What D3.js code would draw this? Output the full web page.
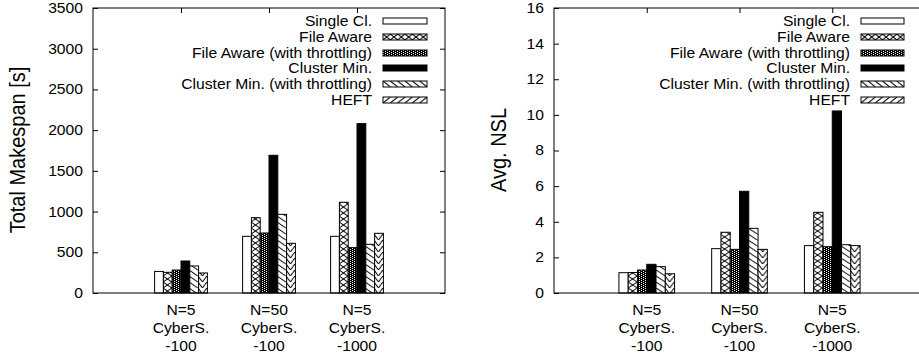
<!DOCTYPE html>
<html>
<head>
<meta charset="utf-8">
<title>Makespan and NSL</title>
<script src="https://cdn.jsdelivr.net/npm/d3@7"></script>
<style>
  body { margin: 0; background: #fff; }
</style>
</head>
<body>
<svg id="chart"></svg>
<script>
// data
var categories = [["N=5", "CyberS.", "-100"], ["N=50", "CyberS.", "-100"], ["N=5", "CyberS.", "-1000"]];
var series = ["Single Cl.", "File Aware", "File Aware (with throttling)", "Cluster Min.", "Cluster Min. (with throttling)", "HEFT"];

// one array per category, values in series order
var makespanN5c100  = [265, 254, 282, 393, 332, 246];
var makespanN50c100 = [696, 925, 737, 1691, 966, 610];
var makespanN5c1000 = [696, 1114, 557, 2080, 598, 733];
var nslN5c100  = [1.14, 1.15, 1.29, 1.61, 1.48, 1.08];
var nslN50c100 = [2.49, 3.41, 2.45, 5.71, 3.63, 2.45];
var nslN5c1000 = [2.66, 4.53, 2.60, 10.22, 2.71, 2.66];

var makespanTicks = [0, 500, 1000, 1500, 2000, 2500, 3000, 3500];
var nslTicks = [0, 2, 4, 6, 8, 10, 12, 14, 16];

var WIDTH = 919, HEIGHT = 354;
var TOP = 8, BOTTOM = 293;
var SX = 1.12;   // gnuplot text looks a bit wide
var FONT = "'Liberation Sans', Arial, Helvetica, sans-serif";
var kinds = ["empty", "cross", "dense", "solid", "back", "chevron"];
var legendKinds = ["empty", "cross", "dense", "solid", "back", "fwd"];

var panels = [
    {values: [makespanN5c100, makespanN50c100, makespanN5c1000], ticks: makespanTicks,
     label: "Total Makespan [s]", left: 93, right: 445, labelX: 25,
     legendTextX: 372, keyX: 383, keyW: 44},
    {values: [nslN5c100, nslN50c100, nslN5c1000], ticks: nslTicks,
     label: "Avg. NSL", left: 554, right: 925, labelX: 506,
     legendTextX: 850, keyX: 861, keyW: 43}
];

var svg = d3.select("#chart").attr("width", WIDTH).attr("height", HEIGHT);
var defs = svg.append("defs");

function addPattern(id, kind, w, h){
    if (kind === "dense") { w = 4; h = 2; }
    var p = defs.append("pattern").attr("id", id)
        .attr("patternUnits", "userSpaceOnUse")
        .attr("width", w).attr("height", h);
    p.append("rect").attr("width", w).attr("height", h)
        .attr("fill", (kind === "solid" || kind === "dense") ? "#000" : "#fff");
    var line = function(x1, y1, x2, y2){
        p.append("line").attr("x1", x1).attr("y1", y1).attr("x2", x2).attr("y2", y2)
            .attr("stroke", "#000").attr("stroke-width", 1);
    };
    [-w, 0, w].forEach(function(dx){
        if (kind === "cross") { line(dx, 0, dx + w, h); line(dx, h, dx + w, 0); }
        if (kind === "back") line(dx, 0, dx + w, h);
        if (kind === "fwd") line(dx, h, dx + w, 0);
    });
    if (kind === "chevron") { line(0, 0, w / 2, h); line(w / 2, h, w, 0); }
    if (kind === "dense") {
        // staggered white dots on black
        p.append("rect").attr("x", 0).attr("y", 0).attr("width", 1).attr("height", 1).attr("fill", "#fff");
        p.append("rect").attr("x", 2).attr("y", 1).attr("width", 1).attr("height", 1).attr("fill", "#fff");
    }
}

function text(g, x, y, str, anchor, size, rotate){
    return g.append("text")
        .attr("transform", "translate(" + x + "," + y + ") scale(" + SX + ",1)" + (rotate ? " rotate(-90)" : ""))
        .attr("text-anchor", anchor)
        .attr("font-family", FONT)
        .attr("font-size", size + "px")
        .attr("fill", "#000")
        .text(str);
}

panels.forEach(function(P, pi){
    var g = svg.append("g");
    var x = d3.scaleLinear().domain([-1, 3]).range([P.left, P.right]);
    var y = d3.scaleLinear().domain([0, d3.max(P.ticks)]).range([BOTTOM, TOP]);
    var inner = d3.scaleBand().domain(d3.range(series.length)).range([-0.3, 0.3]);
    var bw = x(inner.bandwidth()) - x(0);

    kinds.forEach(function(k){ addPattern("b" + pi + k, k, bw, 6); });
    legendKinds.forEach(function(k){ addPattern("l" + pi + k, k, P.keyW / 6, 6); });

    // bars; the group sits on a whole pixel so the fill patterns stay crisp
    P.values.forEach(function(vals, ci){
        g.selectAll(null)
         .data(vals)
         .enter()
         .append("g")
         .attr("transform", function(d, si){ return "translate(" + Math.floor(x(ci + inner(si))) + ",0)"; })
         .append("rect")
         .attr("x", function(d, si){ var bx = x(ci + inner(si)); return bx - Math.floor(bx); })
         .attr("y", function(d){ return y(d); })
         .attr("width", bw)
         .attr("height", function(d){ return BOTTOM - y(d); })
         .attr("fill", function(d, si){ return "url(#b" + pi + kinds[si] + ")"; })
         .attr("stroke", "#000")
         .attr("stroke-width", 1);
    });

    // frame and inward ticks
    g.append("rect")
     .attr("x", P.left).attr("y", TOP)
     .attr("width", P.right - P.left).attr("height", BOTTOM - TOP)
     .attr("fill", "none").attr("stroke", "#000").attr("stroke-width", 1);

    var yAxis = g.append("g").attr("transform", "translate(" + P.left + ",0)")
        .call(d3.axisLeft(y).tickValues(P.ticks).tickFormat(d3.format("d")).tickSize(-5).tickPadding(10 / SX));
    yAxis.select(".domain").remove();
    yAxis.selectAll("text")
        .attr("transform", "scale(" + SX + ",1)")
        .attr("font-family", FONT).attr("font-size", "14px").attr("fill", "#000");

    var yMirror = g.append("g").attr("transform", "translate(" + P.right + ",0)")
        .call(d3.axisRight(y).tickValues(P.ticks).tickSize(-5).tickFormat(""));
    yMirror.select(".domain").remove();

    var xTop = g.append("g").attr("transform", "translate(0," + TOP + ")")
        .call(d3.axisTop(x).tickValues([0, 1, 2]).tickSize(-5).tickFormat(""));
    xTop.select(".domain").remove();
    var xBottom = g.append("g").attr("transform", "translate(0," + BOTTOM + ")")
        .call(d3.axisBottom(x).tickValues([0, 1, 2]).tickSize(-5).tickFormat(""));
    xBottom.select(".domain").remove();

    // category labels, three lines each
    categories.forEach(function(lines, ci){
        lines.forEach(function(s, li){
            text(g, x(ci), BOTTOM + 22 + 17.8 * li, s, "middle", 14);
        });
    });

    // y label
    text(g, P.labelX, 150, P.label, "middle", 20, true);

    // legend
    series.forEach(function(s, si){
        var cy = 21 + 15.8 * si;
        text(g, P.legendTextX, cy + 5, s, "end", 14);
        g.append("g").attr("transform", "translate(" + P.keyX + "," + Math.round(cy - 3) + ")")
         .append("rect")
         .attr("width", P.keyW).attr("height", 6)
         .attr("fill", "url(#l" + pi + legendKinds[si] + ")")
         .attr("stroke", "#000").attr("stroke-width", 1);
    });
});
</script>
</body>
</html>
